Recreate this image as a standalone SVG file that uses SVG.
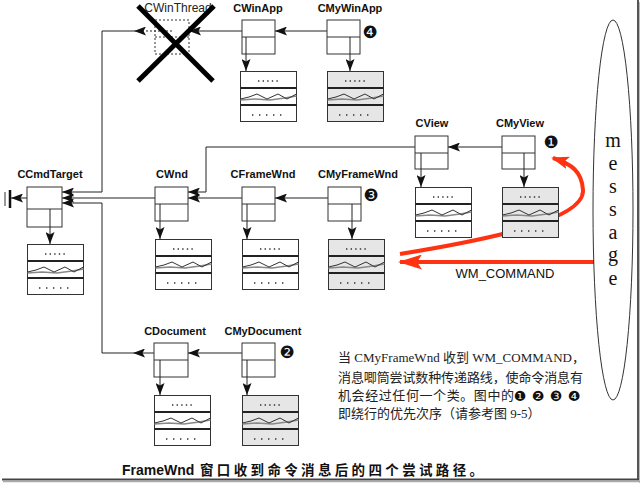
<svg xmlns="http://www.w3.org/2000/svg" xmlns:xlink="http://www.w3.org/1999/xlink" width="640" height="483" viewBox="0 0 640 483">
<style>
.lbl{font-family:"Liberation Sans",Arial,sans-serif;font-size:11px;font-weight:bold;fill:#111;text-anchor:middle}
.num{font-family:"DejaVu Sans",sans-serif;font-size:17px;fill:#111;text-anchor:middle}
.box{fill:#fff;stroke:#333;stroke-width:1}
.div{stroke:#333;stroke-width:1}
.ln{fill:none;stroke:#222;stroke-width:1}
.red{fill:none;stroke:#ff3311;stroke-width:4}
.para{font-family:"Liberation Serif","Noto Sans CJK SC",serif;font-size:13px;fill:#222}
.msg{font-family:"Liberation Serif","Times New Roman",serif;font-size:20px;fill:#111;text-anchor:middle}
</style>
<defs>
<marker id="ah" viewBox="0 0 12 9" refX="12" refY="4.5" markerWidth="12" markerHeight="9" markerUnits="userSpaceOnUse" orient="auto">
<path d="M0,0 L12,4.5 L0,9 L2.5,4.5 Z" fill="#111"/>
</marker>
<marker id="rah" viewBox="0 0 24 15" refX="22" refY="7.5" markerWidth="24" markerHeight="15" markerUnits="userSpaceOnUse" orient="auto">
<path d="M0,0 L24,7.5 L0,15 L5,7.5 Z" fill="#ff3311"/>
</marker>
<marker id="rah2" viewBox="0 0 18 13" refX="16" refY="6.5" markerWidth="18" markerHeight="13" markerUnits="userSpaceOnUse" orient="auto">
<path d="M0,0 L18,6.5 L0,13 L4,6.5 Z" fill="#ff3311"/>
</marker>
<g id="db">
<rect x="0.5" y="0.5" width="56" height="50" stroke="#333" stroke-width="1"/>
<line x1="0.5" y1="17" x2="56.5" y2="17" stroke="#222" stroke-width="1.8"/>
<line x1="0.5" y1="34" x2="56.5" y2="34" stroke="#222" stroke-width="1.8"/>
<line x1="18" y1="10" x2="41" y2="10" stroke="#333" stroke-width="1.4" stroke-dasharray="1.4 3.2"/>
<line x1="12" y1="44" x2="47" y2="44" stroke="#333" stroke-width="1.4" stroke-dasharray="1.4 5.6"/>
<polyline points="0.5,29 15,28 30,29 45,27 56.5,25" fill="none" stroke="#888" stroke-width="1.5"/>
<polyline points="0.5,28 9,26 17,23 27,28 38,23 47,28 56.5,23" fill="none" stroke="#333" stroke-width="1"/>
</g>
</defs>
<rect width="640" height="483" fill="#fff"/>

<g id="connectors">
<path class="ln" d="M335,31 H275" marker-end="url(#ah)"/>
<path class="ln" d="M257,31 H189" marker-end="url(#ah)"/>
<path class="ln" d="M172,31 H134" stroke-dasharray="2 2" marker-end="url(#ah)"/>
<path class="ln" d="M134,31 H102 V192 H62" marker-end="url(#ah)"/>
<path class="ln" d="M515,147 H448" marker-end="url(#ah)"/>
<path class="ln" d="M422,147 H206 V192 H188" marker-end="url(#ah)"/>
<path class="ln" d="M334,198 H275" marker-end="url(#ah)"/>
<path class="ln" d="M247,198 H188" marker-end="url(#ah)"/>
<path class="ln" d="M160,198 H62" marker-end="url(#ah)"/>
<path class="ln" d="M247,353 H188" marker-end="url(#ah)"/>
<path class="ln" d="M160,353 H133" marker-end="url(#ah)"/>
<path class="ln" d="M133,353 H102 V203 H62" marker-end="url(#ah)"/>
<path class="ln" d="M45,198 H11" marker-end="url(#ah)"/>
<line x1="10" y1="190" x2="10" y2="208" stroke="#111" stroke-width="2.5"/>
<line x1="5" y1="192" x2="5" y2="206" stroke="#333" stroke-width="1"/>
<path class="red" d="M594,262 H400" marker-end="url(#rah)"/>
<path class="red" d="M400,254 C480,241 585,221 583,190 C582,172 572,164 553,158" marker-end="url(#rah2)"/>
</g>

<g id="CWinThread">
<text x="178" y="12" style="font-family:'Liberation Sans',Arial,sans-serif;font-size:12px;fill:#222;text-anchor:middle">CWinThread</text>
<rect x="155" y="20" width="34" height="34" fill="none" stroke="#333" stroke-dasharray="2 2"/>
<line x1="155" y1="37" x2="189" y2="37" stroke="#333" stroke-dasharray="2 2"/>
<line x1="138" y1="6" x2="213" y2="81" stroke="#000" stroke-width="5"/>
<line x1="138" y1="81" x2="214" y2="6" stroke="#000" stroke-width="5"/>
</g>

<g id="CWinApp">
<text class="lbl" x="258" y="12">CWinApp</text>
<rect class="box" x="242" y="20" width="33" height="34"/>
<line class="div" x1="242" y1="37" x2="275" y2="37"/>
<path class="ln" d="M246,37 V71" marker-end="url(#ah)"/>
<use xlink:href="#db" x="240" y="71" fill="#fff"/>
</g>

<g id="CMyWinApp">
<text class="lbl" x="350" y="12">CMyWinApp</text>
<rect class="box" x="327" y="20" width="33" height="34"/>
<line class="div" x1="327" y1="37" x2="360" y2="37"/>
<path class="ln" d="M350,37 V71" marker-end="url(#ah)"/>
<use xlink:href="#db" x="327" y="71" fill="#e6e6e6"/>
<text class="num" x="370" y="38">❹</text>
</g>

<g id="CView">
<text class="lbl" x="432" y="127">CView</text>
<rect class="box" x="415" y="136" width="33" height="33"/>
<line class="div" x1="415" y1="153" x2="448" y2="153"/>
<path class="ln" d="M421,153 V187" marker-end="url(#ah)"/>
<use xlink:href="#db" x="415" y="187" fill="#fff"/>
</g>

<g id="CMyView">
<text class="lbl" x="520" y="127">CMyView</text>
<rect class="box" x="502" y="136" width="33" height="33"/>
<line class="div" x1="502" y1="153" x2="535" y2="153"/>
<path class="ln" d="M524,153 V187" marker-end="url(#ah)"/>
<use xlink:href="#db" x="502" y="187" fill="#e6e6e6"/>
<text class="num" x="551" y="148">❶</text>
</g>

<g id="CCmdTarget">
<text class="lbl" x="50" y="178">CCmdTarget</text>
<rect class="box" x="27" y="187" width="35" height="40"/>
<line class="div" x1="27" y1="209" x2="62" y2="209"/>
<path class="ln" d="M50,209 V244" marker-end="url(#ah)"/>
<use xlink:href="#db" x="27" y="244" fill="#fff"/>
</g>

<g id="CWnd">
<text class="lbl" x="172" y="178">CWnd</text>
<rect class="box" x="155" y="187" width="33" height="34"/>
<line class="div" x1="155" y1="204" x2="188" y2="204"/>
<path class="ln" d="M160,204 V239" marker-end="url(#ah)"/>
<use xlink:href="#db" x="155" y="239" fill="#fff"/>
</g>

<g id="CFrameWnd">
<text class="lbl" x="263" y="178">CFrameWnd</text>
<rect class="box" x="242" y="187" width="33" height="34"/>
<line class="div" x1="242" y1="204" x2="275" y2="204"/>
<path class="ln" d="M247,204 V239" marker-end="url(#ah)"/>
<use xlink:href="#db" x="242" y="239" fill="#fff"/>
</g>

<g id="CMyFrameWnd">
<text class="lbl" x="358" y="178">CMyFrameWnd</text>
<rect class="box" x="328" y="187" width="33" height="34"/>
<line class="div" x1="328" y1="204" x2="361" y2="204"/>
<path class="ln" d="M352,204 V239" marker-end="url(#ah)"/>
<use xlink:href="#db" x="328" y="239" fill="#e6e6e6"/>
<text class="num" x="371" y="201">❸</text>
</g>

<g id="CDocument">
<text class="lbl" x="175" y="335">CDocument</text>
<rect class="box" x="154" y="343" width="34" height="34"/>
<line class="div" x1="154" y1="360" x2="188" y2="360"/>
<path class="ln" d="M160,360 V395" marker-end="url(#ah)"/>
<use xlink:href="#db" x="154" y="395" fill="#fff"/>
</g>

<g id="CMyDocument">
<text class="lbl" x="263" y="335">CMyDocument</text>
<rect class="box" x="242" y="343" width="33" height="34"/>
<line class="div" x1="242" y1="360" x2="275" y2="360"/>
<path class="ln" d="M247,360 V395" marker-end="url(#ah)"/>
<use xlink:href="#db" x="242" y="395" fill="#e6e6e6"/>
<text class="num" x="287" y="358">❷</text>
</g>

<g id="message">
<ellipse cx="613" cy="210" rx="20" ry="190" fill="none" stroke="#333" stroke-width="1"/>
<text class="msg" x="613" y="147">m</text>
<text class="msg" x="613" y="170">e</text>
<text class="msg" x="613" y="193">s</text>
<text class="msg" x="613" y="216">s</text>
<text class="msg" x="613" y="239">a</text>
<text class="msg" x="613" y="261">g</text>
<text class="msg" x="613" y="285">e</text>
</g>

<g id="wm_command">
<text x="505" y="278" style="font-family:'Liberation Sans',Arial,sans-serif;font-size:13px;fill:#111;text-anchor:middle">WM_COMMAND</text>
</g>

<g id="note">
<text class="para" x="338" y="362" textLength="247" lengthAdjust="spacing">当 CMyFrameWnd 收到 WM_COMMAND，</text>
<text class="para" x="338" y="382" textLength="245" lengthAdjust="spacing">消息唧筒尝试数种传递路线，使命令消息有</text>
<text class="para" x="338" y="400" textLength="176" lengthAdjust="spacing">机会经过任何一个类。图中的</text>
<text class="num" x="520" y="401" style="font-size:14px">❶</text>
<text class="num" x="538" y="401" style="font-size:14px">❷</text>
<text class="num" x="556" y="401" style="font-size:14px">❸</text>
<text class="num" x="574" y="401" style="font-size:14px">❹</text>
<text class="para" x="338" y="418">即绕行的优先次序（请参考图 9-5）</text>
</g>

<g id="caption">
<text x="122" y="475" style="font-family:'Liberation Sans',Arial,sans-serif;font-size:14px;font-weight:bold;fill:#111">FrameWnd</text>
<text x="200" y="475" textLength="283" lengthAdjust="spacing" style="font-family:'Noto Sans CJK SC',sans-serif;font-size:13.5px;font-weight:bold;fill:#111">窗口收到命令消息后的四个尝试路径。</text>
</g>

<g id="frame">
<line x1="638" y1="0" x2="638" y2="480" stroke="#555" stroke-width="2"/>
<line x1="639.5" y1="2" x2="639.5" y2="483" stroke="#bbb" stroke-width="1"/>
<line x1="2" y1="479.5" x2="639" y2="479.5" stroke="#444" stroke-width="2"/>
<line x1="3" y1="481.5" x2="640" y2="481.5" stroke="#aaa" stroke-width="1.5"/>
</g>
</svg>
